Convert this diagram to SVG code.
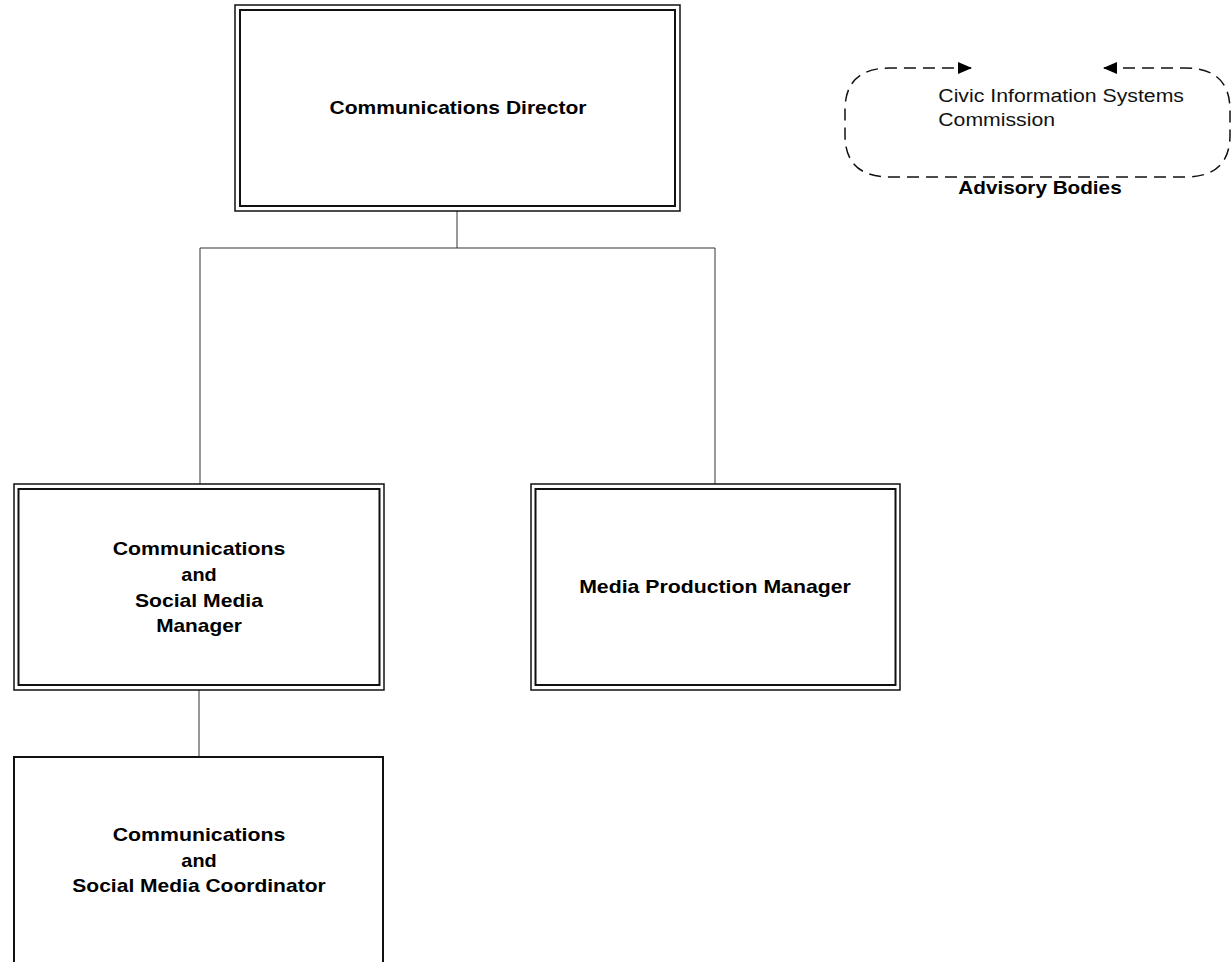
<svg xmlns="http://www.w3.org/2000/svg" width="1232" height="962" viewBox="0 0 1232 962">
<style>
.outer{fill:none;stroke:#111;stroke-width:1.5}
.inner{fill:none;stroke:#111;stroke-width:2}
.single{fill:#fff;stroke:#111;stroke-width:2}
.conn{fill:none;stroke:#333;stroke-width:1}
.b{font-family:"Liberation Sans",Arial,sans-serif;font-weight:bold;font-size:19px;fill:#000;text-anchor:middle}
.r{font-family:"Liberation Sans",Arial,sans-serif;font-size:18px;fill:#111}
.dash{fill:none;stroke:#111;stroke-width:1.5;stroke-dasharray:12 7}
</style>
<defs>
<marker id="arr" viewBox="0 0 14 12" refX="13" refY="6" markerWidth="14" markerHeight="12" markerUnits="userSpaceOnUse" orient="auto-start-reverse">
<path d="M0,0 L14,6 L0,12 Z" fill="#000"/>
</marker>
</defs>
<rect width="1232" height="962" fill="#fff"/>
<g id="connectors">
<path class="conn" d="M457,211 V248 M200,248 H715 M200,248 V484 M715,248 V484 M199,690 V757"/>
</g>
<g id="director">
<rect class="outer" x="235" y="5" width="445" height="206"/>
<rect class="inner" x="240" y="10" width="435" height="196"/>
<text class="b" x="458" y="113.5" textLength="257" lengthAdjust="spacingAndGlyphs">Communications Director</text>
</g>
<g id="comm-manager">
<rect class="outer" x="14" y="484" width="370" height="206"/>
<rect class="inner" x="18.5" y="489" width="361" height="196"/>
<text class="b" x="199" y="555" textLength="172.7" lengthAdjust="spacingAndGlyphs">Communications</text>
<text class="b" x="199" y="581" textLength="35.3" lengthAdjust="spacingAndGlyphs">and</text>
<text class="b" x="199" y="606.7" textLength="128" lengthAdjust="spacingAndGlyphs">Social Media</text>
<text class="b" x="199" y="631.7" textLength="85.7" lengthAdjust="spacingAndGlyphs">Manager</text>
</g>
<g id="media-manager">
<rect class="outer" x="531" y="484" width="369" height="206"/>
<rect class="inner" x="535.5" y="489" width="360" height="196"/>
<text class="b" x="715" y="593.3" textLength="271.7" lengthAdjust="spacingAndGlyphs">Media Production Manager</text>
</g>
<g id="comm-coordinator">
<rect class="single" x="14" y="757" width="369" height="230"/>
<text class="b" x="199" y="840.7" textLength="172.7" lengthAdjust="spacingAndGlyphs">Communications</text>
<text class="b" x="199" y="866.7" textLength="35.3" lengthAdjust="spacingAndGlyphs">and</text>
<text class="b" x="199" y="892.3" textLength="253.3" lengthAdjust="spacingAndGlyphs">Social Media Coordinator</text>
</g>
<g id="advisory">
<path class="dash" marker-start="url(#arr)" marker-end="url(#arr)" d="M1104,68 L1185,68 Q1230,68 1230,110 L1230,135 Q1230,177 1185,177 L890,177 Q845,177 845,135 L845,110 Q845,68 890,68 L971,68"/>
<text class="r" x="938.3" y="101.7" textLength="245.7" lengthAdjust="spacingAndGlyphs">Civic Information Systems</text>
<text class="r" x="938.3" y="126" textLength="116.7" lengthAdjust="spacingAndGlyphs">Commission</text>
<text class="b" x="1040" y="194" textLength="163.3" lengthAdjust="spacingAndGlyphs">Advisory Bodies</text>
</g>
</svg>
